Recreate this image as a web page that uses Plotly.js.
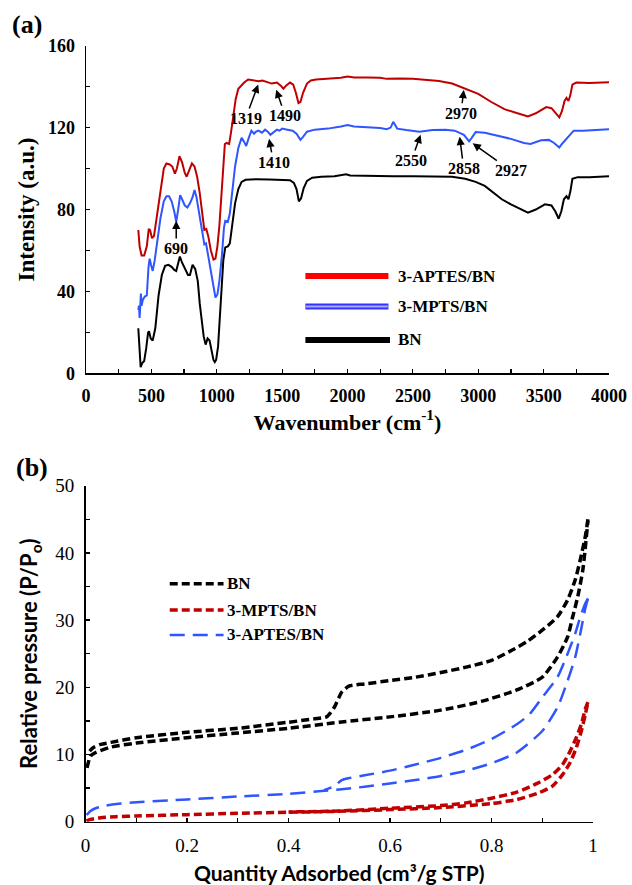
<!DOCTYPE html>
<html>
<head>
<meta charset="utf-8">
<script src="https://cdn.plot.ly/plotly-3.0.1.min.js"></script>
<style>html,body{margin:0;padding:0;background:#fff;}#chart{width:632px;height:885px;}</style>
</head>
<body>
<div id="chart"></div>
<script>
// ---------- Panel (a): FTIR spectra ----------
const aptesWn = [400,410,425,445,465,480,490,505,520,545,570,595,615,640,660,680,695,715,735,755,770,790,810,830,850,870,890,905,920,935,955,975,990,1005,1020,1035,1050,1062,1075,1095,1110,1125,1145,1165,1185,1210,1240,1270,1300,1319,1350,1380,1420,1460,1490,1510,1530,1560,1585,1605,1625,1640,1660,1690,1720,1760,1850,1950,2000,2050,2150,2250,2300,2400,2500,2600,2700,2800,2900,3000,3100,3200,3300,3380,3440,3520,3560,3590,3620,3640,3660,3675,3690,3705,3720,3750,3850,4000];
const aptesInt = [70,62,57.5,57.5,62,70.5,70,66,67,78,90,100,102.5,102,101,97.5,100,106,103,98,96,99,102.5,101,96,88,78,70,70.5,67,60,55.5,56,62,72,88,105,112,112.5,112,118,126,134,139,140.5,142,143.5,143.3,143,142.7,143,142.5,141.5,142,140.5,139,140.5,142,141,137,132,132.5,137,141.5,143,143.5,144,144.3,145,144.5,144.5,144.3,143.8,144,143.8,143.3,142.8,141.5,139,136.5,132.5,129,127,125.5,127,130,129.5,127.5,125,128,133,134.5,133,136,141,142,141.8,142.2];

const mptsWn = [400,405,410,415,420,425,435,450,465,478,487,497,510,525,545,570,595,615,635,655,675,690,705,720,735,755,775,795,815,830,845,865,885,905,918,930,950,970,990,1005,1020,1040,1055,1065,1085,1100,1120,1140,1165,1190,1210,1225,1245,1265,1285,1300,1320,1345,1370,1390,1410,1430,1460,1480,1500,1540,1580,1610,1640,1660,1690,1750,1850,1950,2000,2050,2150,2250,2300,2330,2350,2365,2380,2450,2550,2650,2750,2820,2858,2890,2915,2930,2950,2980,3050,3150,3250,3350,3400,3480,3540,3580,3620,3640,3670,3700,3730,3800,3900,4000];
const mptsInt = [31,33,27,35,39,33,36,37.5,38,52,56,53,50,55,65,76,84,86.5,86.5,84,79,74,80,87,85,82,81,83,86,89.5,86,78,70,63,63.5,59,52,43,37,38.5,45,58,71,74.5,74,78,90,101,110,115,113,111,115,118.5,117,118,118.5,117.5,119,118,116.5,117.5,119,118.5,119.5,119,118.5,117,114,115.5,118,119,119.5,120.5,121.3,120.5,120.2,119.8,119.2,120,122.8,121,119.5,118.8,118,118.8,119,118.5,117.3,116.5,114.5,113.3,115,117.8,117.5,116,114.5,112.5,112,113.8,114,112.5,110.3,112,114,116,118.5,118.5,118.8,119.2];

const bnWn = [400,410,418,430,445,460,475,482,495,510,530,555,580,605,630,655,675,690,705,718,735,760,780,795,815,835,855,870,885,900,915,930,945,960,975,985,995,1010,1030,1050,1065,1085,1100,1120,1140,1165,1190,1220,1300,1400,1500,1560,1590,1610,1628,1645,1665,1690,1730,1800,1900,1990,2020,2100,2200,2350,2500,2650,2800,2900,2980,3050,3120,3180,3250,3320,3380,3440,3510,3560,3590,3615,3635,3655,3675,3690,3705,3720,3760,3850,4000];
const bnInt = [22,8,3,5,6,12,20,20.5,17,16,22,38,48,52.5,53,52,50.5,50,54,57,54,51,48,48,53,51,45,34,26,18,14,17,16,11,6.5,5.5,6.5,13,32,55,61.5,62,63.5,73,83,90,93.5,94.5,94.8,94.7,94.6,94.3,93,90,84,85.5,90.5,94,95.5,96,96.3,97.2,96.6,96.5,96.3,96.2,96.3,96.3,96,95,93.5,91.5,88,85,82.5,80.5,78.5,80,82.5,82,79,75.5,79,85,86.5,85,89,95,95.8,95.7,96.3];

const ftirNames = ['3-APTES/BN','3-MPTS/BN','BN'];
const peakLabels = ['690','1319','1490','1410','2550','2858','2927','2970'];
const peakHeadWn  = [690,1317,1455,1400,2559,2858,2957,2889];
const peakHeadInt = [74.5,141,138.5,114.5,116.5,115.5,112.3,138.4];
const peakTextWn  = [690,1220,1523,1434,2489,2889,3250,2868];
const peakTextInt = [61,124.5,125.8,103,103.9,100,99,127];

// ---------- Panel (b): isotherms ----------
const bnAdsX = [0.003,0.01,0.02,0.05,0.1,0.2,0.3,0.4,0.5,0.6,0.7,0.78,0.85,0.9,0.93,0.95,0.96,0.97,0.98,0.99];
const bnAdsY = [8,9.8,10.3,11.1,11.7,12.5,13.2,13.9,14.8,15.6,16.6,17.9,19.6,21.5,24.5,27.5,30.5,33.5,37.5,44.8];
const bnDesX = [0.99,0.985,0.975,0.965,0.95,0.93,0.9,0.87,0.84,0.8,0.75,0.7,0.65,0.6,0.55,0.52,0.505,0.49,0.475,0.45,0.4,0.3,0.2,0.1,0.05,0.03,0.015,0.008];
const bnDesY = [45,42.5,39,36,33,30.5,28.5,26.8,25.5,24,23,22.2,21.5,21,20.5,20.2,19.3,17,15.6,15.3,14.8,13.9,13.3,12.5,11.8,11.5,11,10.5];

const mptsAdsX = [0.002,0.01,0.03,0.06,0.1,0.2,0.3,0.4,0.5,0.6,0.7,0.8,0.85,0.89,0.92,0.94,0.955,0.967,0.977,0.985,0.99];
const mptsAdsY = [0.1,0.35,0.6,0.75,0.85,1.05,1.25,1.4,1.55,1.8,2.1,2.7,3.3,4.2,5.3,7,8.8,11,13.5,16,17.8];
const mptsDesX = [0.99,0.985,0.977,0.967,0.955,0.94,0.92,0.89,0.85,0.8,0.75,0.7,0.6,0.5,0.4];
const mptsDesY = [17.8,16.8,14.5,12.5,10.5,8.5,7,5.7,4.4,3.5,2.8,2.4,2.0,1.6,1.45];

const aptesAdsX = [0.002,0.01,0.02,0.04,0.07,0.1,0.2,0.3,0.4,0.47,0.5,0.55,0.6,0.65,0.7,0.75,0.8,0.85,0.9,0.93,0.95,0.965,0.975,0.985,0.99];
const aptesAdsY = [1,1.6,2.0,2.4,2.7,2.9,3.3,3.75,4.15,4.6,4.8,5.2,5.7,6.2,6.8,7.6,8.7,10.3,13.5,17,21,24.5,28,31.8,33.2];
const aptesDesX = [0.99,0.985,0.975,0.965,0.95,0.93,0.9,0.875,0.85,0.8,0.75,0.7,0.65,0.6,0.55,0.52,0.505,0.49,0.47];
const aptesDesY = [33.2,32.5,30.5,28,25,21.5,18.5,16,14.5,12.3,10.7,9.5,8.5,7.6,6.9,6.5,6.2,5.3,4.7];

const isoNames = ['BN','3-MPTS/BN','3-APTES/BN'];

// ---------- styling ----------
const SERIF = 'Liberation Serif';
const SANS = 'Lato';
const cRed = '#c00000', cBlue = '#2f55ff', cBlack = '#000000';

const traces = [
  {x: aptesWn, y: aptesInt, name: ftirNames[0], xaxis:'x', yaxis:'y', mode:'lines', line:{color:cRed, width:2}},
  {x: mptsWn, y: mptsInt, name: ftirNames[1], xaxis:'x', yaxis:'y', mode:'lines', line:{color:cBlue, width:2}},
  {x: bnWn, y: bnInt, name: ftirNames[2], xaxis:'x', yaxis:'y', mode:'lines', line:{color:cBlack, width:2}},
  {x: bnAdsX, y: bnAdsY, name: isoNames[0], xaxis:'x2', yaxis:'y2', mode:'lines', line:{color:'#000', width:3.5, dash:'8px,4px', shape:'spline', smoothing:0.6}},
  {x: bnDesX, y: bnDesY, name: isoNames[0], xaxis:'x2', yaxis:'y2', mode:'lines', line:{color:'#000', width:3.5, dash:'8px,4px', shape:'spline', smoothing:0.6}},
  {x: mptsAdsX, y: mptsAdsY, name: isoNames[1], xaxis:'x2', yaxis:'y2', mode:'lines', line:{color:cRed, width:3.5, dash:'8px,4px', shape:'spline', smoothing:0.6}},
  {x: mptsDesX, y: mptsDesY, name: isoNames[1], xaxis:'x2', yaxis:'y2', mode:'lines', line:{color:cRed, width:3.5, dash:'8px,4px', shape:'spline', smoothing:0.6}},
  {x: aptesAdsX, y: aptesAdsY, name: isoNames[2], xaxis:'x2', yaxis:'y2', mode:'lines', line:{color:cBlue, width:2.5, dash:'15px,8px', shape:'spline', smoothing:0.6}},
  {x: aptesDesX, y: aptesDesY, name: isoNames[2], xaxis:'x2', yaxis:'y2', mode:'lines', line:{color:cBlue, width:2.5, dash:'15px,8px', shape:'spline', smoothing:0.6}}
];

const axBase = {
  showline:true, linecolor:'#000', linewidth:1.5, showgrid:false, zeroline:false,
  ticks:'inside', ticklen:4, tickwidth:1.2, tickcolor:'#000'
};

const annotations = [];
for (let i = 0; i < peakLabels.length; i++) {
  annotations.push({
    xref:'x', yref:'y', axref:'x', ayref:'y',
    x: peakHeadWn[i], y: peakHeadInt[i], ax: peakTextWn[i], ay: peakTextInt[i],
    text: peakLabels[i], showarrow:true, arrowhead:2, arrowsize:1.1, arrowwidth:1.5, arrowcolor:'#000',
    font:{family:SERIF, size:16, weight:'bold', color:'#000'}
  });
}
const legAY = [47.5, 32.6, 16.3];
const legAX0 = 1678, legAX1 = 2313, legATextX = 2370;
for (let i = 0; i < 3; i++) {
  annotations.push({xref:'x', yref:'y', x: legATextX, y: legAY[i], xanchor:'left', yanchor:'middle',
    text: ftirNames[i], showarrow:false, font:{family:SERIF, size:17, weight:'bold', color:'#000'}});
}
const legBY = [35.4, 31.5, 27.8];
const legBX0 = 0.166, legBX1 = 0.272, legBTextX = 0.275;
for (let i = 0; i < 3; i++) {
  annotations.push({xref:'x2', yref:'y2', x: legBTextX, y: legBY[i], xanchor:'left', yanchor:'middle',
    text: isoNames[i], showarrow:false, font:{family:SERIF, size:17, weight:'bold', color:'#000'}});
}
annotations.push({xref:'paper', yref:'paper', x: 10/632, y: 1 - 24/885, xanchor:'left', yanchor:'middle',
  text:'(a)', showarrow:false, font:{family:SERIF, size:26, weight:'bold', color:'#000'}});
annotations.push({xref:'paper', yref:'paper', x: 14/632, y: 1 - 467/885, xanchor:'left', yanchor:'middle',
  text:'(b)', showarrow:false, font:{family:SERIF, size:26, weight:'bold', color:'#000'}});

const shapes = [
  {type:'line', xref:'x', yref:'y', x0:legAX0, x1:legAX1, y0:legAY[0], y1:legAY[0], line:{color:'#ff0000', width:6}},
  {type:'line', xref:'x', yref:'y', x0:legAX0, x1:legAX1, y0:legAY[1], y1:legAY[1], line:{color:'#3333ff', width:6}},
  {type:'line', xref:'x', yref:'y', x0:legAX0 + 5, x1:legAX1 - 5, y0:legAY[1], y1:legAY[1], line:{color:'#a8a8ff', width:2}},
  {type:'line', xref:'x', yref:'y', x0:legAX0, x1:legAX1 + 12, y0:legAY[2], y1:legAY[2], line:{color:'#000', width:6}},
  {type:'line', xref:'x2', yref:'y2', x0:legBX0, x1:legBX1, y0:legBY[0], y1:legBY[0], line:{color:'#000', width:3.5, dash:'8px,4px'}},
  {type:'line', xref:'x2', yref:'y2', x0:legBX0, x1:legBX1, y0:legBY[1], y1:legBY[1], line:{color:cRed, width:3.5, dash:'8px,4px'}},
  {type:'line', xref:'x2', yref:'y2', x0:legBX0, x1:legBX1, y0:legBY[2], y1:legBY[2], line:{color:cBlue, width:2.5, dash:'15px,8px'}}
];

const layout = {
  width:632, height:885, margin:{l:0, r:0, t:0, b:0},
  paper_bgcolor:'#fff', plot_bgcolor:'#fff', showlegend:false,
  font:{family:SERIF, color:'#000'},
  xaxis: Object.assign({}, axBase, {
    domain:[86/632, 609/632], anchor:'y', range:[0,4000], tick0:0, dtick:500,
    minor:{dtick:250, ticks:'inside', ticklen:4, tickwidth:1.2, tickcolor:'#000'},
    tickfont:{family:SERIF, size:18, weight:'bold', color:'#000'}, ticklabelstandoff:6,
    title:{text:'Wavenumber (cm<sup>-1</sup>)', font:{family:SERIF, size:22, weight:'bold', color:'#000'}, standoff:8}
  }),
  yaxis: Object.assign({}, axBase, {
    domain:[1 - 373.3/885, 1 - 45.7/885], anchor:'x', range:[0,160], tick0:0, dtick:40,
    minor:{dtick:20, ticks:'inside', ticklen:4, tickwidth:1.2, tickcolor:'#000'},
    tickfont:{family:SERIF, size:18, weight:'bold', color:'#000'}, ticklabelstandoff:6,
    title:{text:'Intensity (a.u.)', font:{family:SERIF, size:23, weight:'bold', color:'#000'}, standoff:7}
  }),
  xaxis2: Object.assign({}, axBase, {
    domain:[85.5/632, 593/632], anchor:'y2', range:[0,1], tick0:0, dtick:0.2,
    minor:{dtick:0.1, ticks:'inside', ticklen:4, tickwidth:1.2, tickcolor:'#000'},
    tickfont:{family:SERIF, size:19, color:'#000'}, ticklabelstandoff:6,
    title:{text:'Quantity Adsorbed (cm³/g STP)', font:{family:SANS, size:21, weight:'bold', color:'#000'}, standoff:11}
  }),
  yaxis2: Object.assign({}, axBase, {
    domain:[1 - 821.7/885, 1 - 485.7/885], anchor:'x2', range:[0,50], tick0:0, dtick:10,
    minor:{dtick:5, ticks:'inside', ticklen:4, tickwidth:1.2, tickcolor:'#000'},
    tickfont:{family:SERIF, size:19, color:'#000'}, ticklabelstandoff:6,
    title:{text:'Relative pressure (P/P<sub>o</sub>)', font:{family:SANS, size:22, weight:'bold', color:'#000'}, standoff:11}
  }),
  annotations: annotations,
  shapes: shapes
};

const config = {staticPlot:true, displayModeBar:false};
function draw() { return Plotly.react('chart', traces, layout, config); }
draw();
if (document.fonts && document.fonts.load) {
  Promise.all([
    document.fonts.load('16px "Liberation Serif"'),
    document.fonts.load('bold 16px "Liberation Serif"'),
    document.fonts.load('bold 16px "Lato"')
  ]).then(draw, draw);
}
</script>
</body>
</html>
